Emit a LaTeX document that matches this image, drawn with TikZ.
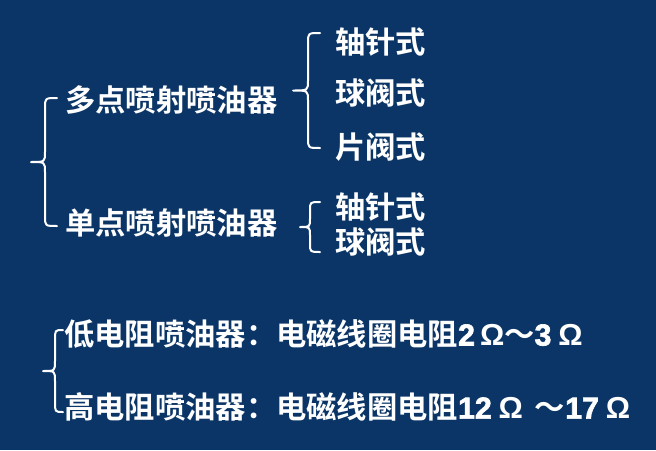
\documentclass[tikz,border=0pt]{standalone}
\usepackage{fontspec}
\newfontfamily\cjk{Noto Sans CJK SC}[BoldFont={* Bold}]
\newfontfamily\latb{Liberation Sans}[FakeBold=2.2]
\newfontfamily\lat{Liberation Sans}
\definecolor{bgnavy}{RGB}{11,53,102}
\tikzset{
  lbl/.style={anchor=west, inner sep=0pt, text=white, font=\cjk\bfseries\fontsize{30.3pt}{32pt}\selectfont},
  brc/.style={draw=white, line width=2pt, line cap=round, line join=round},
}
\newcommand{\mybrace}[5]{% tipx, midx, endx, ytop, ybot
  \pgfmathsetmacro{\ymid}{(#4+#5)/2}
  \pgfmathsetmacro{\rr}{min(10,(#5-#4)/6)}
  \draw[brc] (#3,#4) .. controls (#2,#4) .. (#2,#4+\rr) -- (#2,\ymid-\rr)
    .. controls (#2,\ymid) .. (#1,\ymid) .. controls (#2,\ymid) .. (#2,\ymid+\rr)
    -- (#2,#5-\rr) .. controls (#2,#5) .. (#3,#5);
}
\begin{document}
\begin{tikzpicture}[x=1pt,y=-1pt]
\fill[bgnavy] (0,0) rectangle (656,450);
\useasboundingbox (0,0) rectangle (656,450);

\node[lbl] (multi) at (65,100) {多点喷射喷油器};
\node[lbl] (single) at (65,223) {单点喷射喷油器};
\node[lbl] (m1) at (335,42) {轴针式};
\node[lbl] (m2) at (335,93) {球阀式};
\node[lbl] (m3) at (335,147) {片阀式};
\node[lbl] (s1) at (335,207) {轴针式};
\node[lbl] (s2) at (335,242) {球阀式};
\node[lbl] (low) at (64,334) {低电阻喷油器：电磁线圈电阻{\latb 2}{\lat\,Ω}～{\latb 3} {\lat Ω}};
\node[lbl] (high) at (64,407) {高电阻喷油器：电磁线圈电阻{\latb 12} {\lat Ω} \,～{\latb 17} {\lat Ω}};

\mybrace{31}{45}{57}{98}{226}
\mybrace{293}{308}{320}{33}{148}
\mybrace{300}{310}{320}{202}{252}
\mybrace{43}{55}{63}{330}{412}
\end{tikzpicture}
\end{document}
